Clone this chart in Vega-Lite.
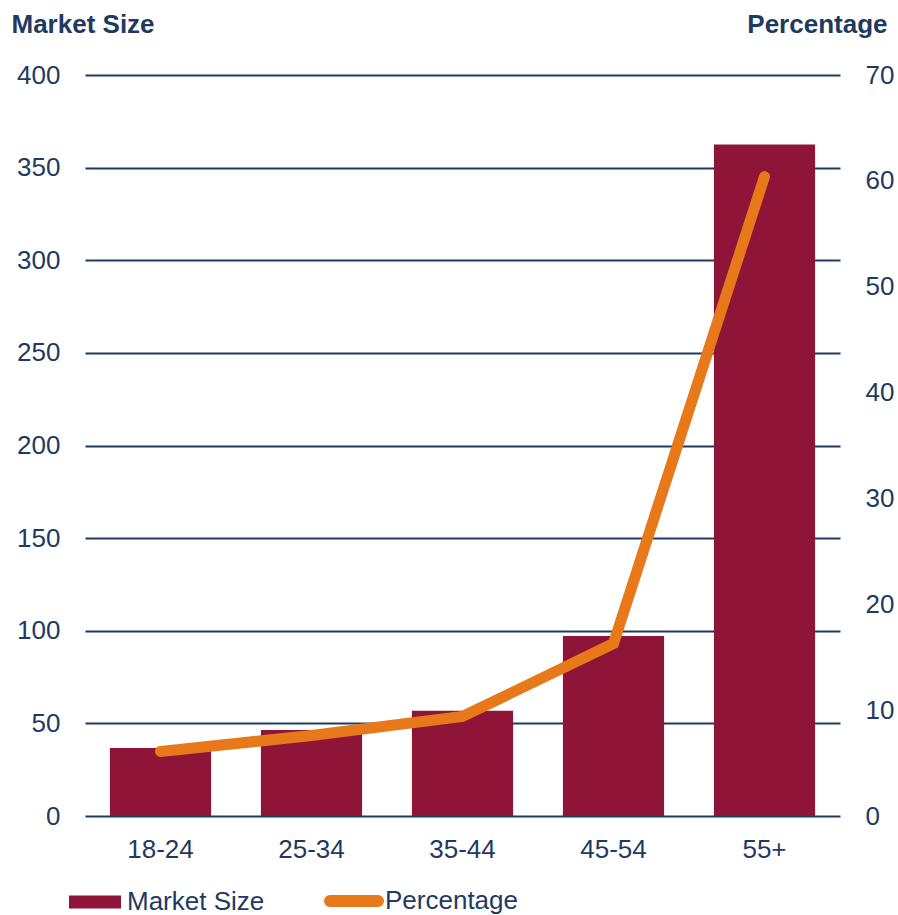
{
  "$schema": "https://vega.github.io/schema/vega-lite/v6.json",
  "autosize": {"type": "none"},
  "width": 755,
  "height": 741,
  "padding": {"left": 85, "top": 75, "right": 58, "bottom": 99},
  "background": "white",
  "config": {
    "view": {"stroke": null},
    "font": "Liberation Sans",
    "axis": {"labelFont": "Liberation Sans", "labelColor": "#1F3A60", "labelFontSize": 25, "titleFont": "Liberation Sans", "titleColor": "#1F3A60"},
    "legend": {"labelFont": "Liberation Sans", "labelFontSize": 26, "labelColor": "#1F3A60", "padding": 0}
  },
  "data": {
    "values": [
      {"age": "18-24", "market": 36.7, "pct": 6.1},
      {"age": "25-34", "market": 46.4, "pct": 7.6},
      {"age": "35-44", "market": 56.8, "pct": 9.4},
      {"age": "45-54", "market": 97.1, "pct": 16.3},
      {"age": "55+", "market": 362.5, "pct": 60.4}
    ]
  },
  "encoding": {
    "x": {
      "field": "age", "type": "nominal", "sort": null,
      "scale": {"paddingInner": 0.33, "paddingOuter": 0.165},
      "axis": {"title": null, "labelAngle": 0, "domain": false, "ticks": false, "labelPadding": 20, "grid": false, "labelFontSize": 26}
    }
  },
  "layer": [
    {
      "mark": {"type": "bar"},
      "encoding": {
        "y": {
          "field": "market", "type": "quantitative",
          "scale": {"domain": [0, 400], "nice": false},
          "axis": {
            "title": "Market Size", "titleAngle": 0, "titleX": -74, "titleY": -51, "titleAlign": "left", "titleBaseline": "middle",
            "titleFontSize": 26, "titleFontWeight": "bold",
            "values": [0, 50, 100, 150, 200, 250, 300, 350, 400],
            "domain": false, "ticks": false, "labelPadding": 25, "labelFontSize": 26,
            "grid": true, "gridColor": "#1F3A60", "gridWidth": 2, "gridOpacity": 1
          }
        },
        "fill": {
          "datum": "Market Size",
          "scale": {"domain": ["Market Size"], "range": ["#8E1538"]},
          "legend": {
            "title": null, "orient": "none", "legendX": -16, "legendY": 801,
            "symbolType": "M-1,-0.25H1V0.25H-1Z", "symbolSize": 2704, "symbolStrokeWidth": 0, "symbolOpacity": 1, "labelOffset": 6
          }
        }
      }
    },
    {
      "mark": {"type": "line", "strokeWidth": 11, "strokeCap": "round", "strokeJoin": "miter"},
      "encoding": {
        "y": {
          "field": "pct", "type": "quantitative",
          "scale": {"domain": [0, 70], "nice": false},
          "axis": {
            "title": "Percentage", "orient": "right", "titleAngle": 0, "titleX": 47, "titleY": -51, "titleAlign": "right", "titleBaseline": "middle",
            "titleFontSize": 26, "titleFontWeight": "bold",
            "values": [0, 10, 20, 30, 40, 50, 60, 70],
            "domain": false, "ticks": false, "labelPadding": 25, "labelFontSize": 26, "grid": false
          }
        },
        "stroke": {
          "datum": "Percentage",
          "scale": {"domain": ["Percentage"], "range": ["#E8791A"]},
          "legend": {
            "title": null, "orient": "none", "legendX": 239, "legendY": 796,
            "symbolType": "stroke", "symbolSize": 2304, "symbolStrokeWidth": 12, "labelOffset": 1,
            "encode": {"symbols": {"update": {"strokeCap": {"value": "round"}}}}
          }
        }
      }
    }
  ],
  "resolve": {"scale": {"y": "independent"}}
}
